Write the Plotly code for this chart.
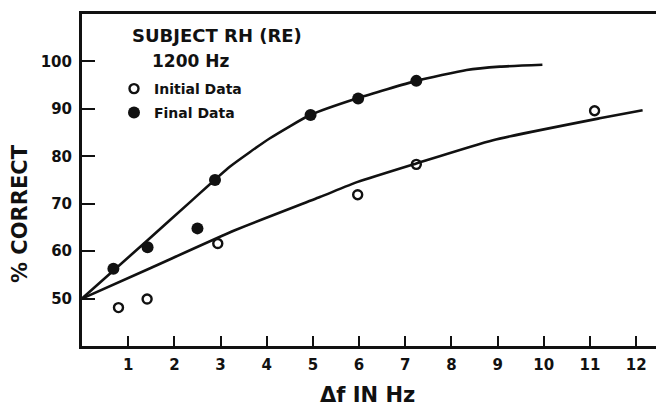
import plotly.graph_objects as go

# ---- data ----
initial_x = [0.79, 1.41, 2.94, 5.97, 7.24, 11.10]
initial_y = [48.1, 49.9, 61.6, 71.9, 78.3, 89.6]

final_x = [0.68, 1.42, 2.50, 2.88, 4.95, 5.98, 7.24]
final_y = [56.3, 60.8, 64.8, 75.0, 88.7, 92.2, 95.9]

initial_curve_x = [0, 1.5, 3.31, 5.15, 5.97, 7.24, 8.9, 11.21, 12.14]
initial_curve_y = [50, 56.5, 64.4, 71.4, 74.6, 78.5, 83.4, 88.0, 89.7]

final_curve_x = [0, 1.42, 2.37, 3.2, 4.07, 4.94, 5.98, 7.24, 8.33, 9.05, 9.97]
final_curve_y = [50, 62.3, 70.6, 77.8, 83.8, 88.7, 92.3, 95.9, 98.2, 98.9, 99.3]

x_ticks = list(range(1, 13))
y_ticks = [50, 60, 70, 80, 90, 100]

INK = "#111111"
FONT = "DejaVu Sans"

fig = go.Figure()

fig.add_trace(go.Scatter(x=initial_curve_x, y=initial_curve_y, mode="lines",
                         line=dict(color=INK, width=2.6, shape="spline", smoothing=0.5),
                         showlegend=False, hoverinfo="skip"))
fig.add_trace(go.Scatter(x=final_curve_x, y=final_curve_y, mode="lines",
                         line=dict(color=INK, width=2.6, shape="spline", smoothing=0.5),
                         showlegend=False, hoverinfo="skip"))

fig.add_trace(go.Scatter(x=initial_x, y=initial_y, mode="markers", name="<b>Initial Data</b>",
                         marker=dict(symbol="circle-open", size=9, color=INK, line=dict(width=2.4, color=INK)),
                         legend="legend"))
fig.add_trace(go.Scatter(x=final_x, y=final_y, mode="markers", name="<b>Final Data</b>",
                         marker=dict(symbol="circle", size=12, color=INK),
                         legend="legend2"))

# plot area: x 82..656, y 14..346
def px(xp):
    return (xp - 82) / 574.0

def py(yp):
    return 1 - (yp - 14) / 332.0

axis_common = dict(showgrid=False, zeroline=False, showline=True, linecolor=INK, linewidth=3,
                   ticks="inside", tickcolor=INK, tickwidth=2,
                   tickfont=dict(family=FONT, size=15, color=INK))

fig.update_layout(
    width=656, height=407,
    margin=dict(l=82, r=0, t=14, b=61),
    paper_bgcolor="white", plot_bgcolor="white",
    xaxis=dict(range=[0, 12.43], tickvals=x_ticks, ticktext=[f"<b>{v}</b>" for v in x_ticks],
               ticklen=10, mirror=True, ticklabelstandoff=3, **axis_common),
    yaxis=dict(range=[40, 110], tickvals=y_ticks, ticktext=[f"<b>{v}</b>" for v in y_ticks],
               ticklen=13, mirror=False, ticklabelstandoff=4, **axis_common),
    legend=dict(x=px(114), y=py(89), xanchor="left", yanchor="middle", bgcolor="rgba(0,0,0,0)",
                borderwidth=0, font=dict(family=FONT, size=14, color=INK)),
    legend2=dict(x=px(114), y=py(113), xanchor="left", yanchor="middle", bgcolor="rgba(0,0,0,0)",
                 borderwidth=0, font=dict(family=FONT, size=14, color=INK)),
    annotations=[
        dict(text="<b>SUBJECT RH (RE)</b>", xref="paper", yref="paper", x=px(130), y=py(35),
             xanchor="left", yanchor="middle", showarrow=False,
             font=dict(family=FONT, size=18, color=INK)),
        dict(text="<b>1200 Hz</b>", xref="paper", yref="paper", x=px(150), y=py(61),
             xanchor="left", yanchor="middle", showarrow=False,
             font=dict(family=FONT, size=17, color=INK)),
        dict(text="<b>% CORRECT</b>", xref="paper", yref="paper", x=px(20), y=py(214),
             xanchor="center", yanchor="middle", textangle=-90, showarrow=False,
             font=dict(family=FONT, size=21, color=INK)),
        dict(text="<b>Δf IN Hz</b>", xref="paper", yref="paper", x=px(367), y=py(395),
             xanchor="center", yanchor="middle", showarrow=False,
             font=dict(family=FONT, size=21, color=INK)),
    ],
)

fig.write_html("out.html")
